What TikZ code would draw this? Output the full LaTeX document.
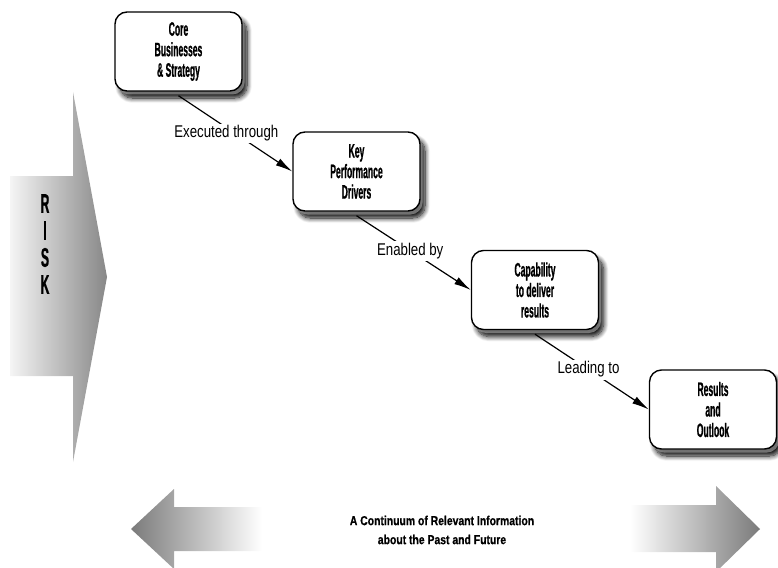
\documentclass[tikz,border=0pt]{standalone}
\usepackage{fontspec}
\setmainfont{Liberation Sans}
\newfontfamily\boxfont[FakeStretch=0.44,FakeBold=0.7]{Liberation Sans Bold}
\newfontfamily\lblfont[FakeStretch=0.78]{Liberation Sans}
\newfontfamily\botfont[FakeStretch=0.8,FakeBold=0.5]{Liberation Sans Bold}
\newfontfamily\riskfont[FakeStretch=0.45,FakeBold=0.8]{Liberation Sans Bold}
\usetikzlibrary{arrows.meta,shadows.blur}
\begin{document}
\begin{tikzpicture}[x=1pt,y=-1pt,
  card/.style={draw=black, line width=1.4pt, rounded corners=12pt, fill=white,
    minimum width=127pt, minimum height=79pt, align=center, inner sep=0pt,
    font=\boxfont\fontsize{19.5}{20.5}\selectfont,
    blur shadow={shadow xshift=5pt, shadow yshift=-7pt, shadow blur steps=10, shadow blur radius=5pt, shadow opacity=100},
    preaction={fill=black!45, opacity=0.8, transform canvas={shift={(2.5pt,-3.5pt)}}}},
  link/.style={line width=1.2pt, -{Latex[length=17pt,width=8pt]}},
  lbl/.style={fill=white, inner sep=2pt, font=\lblfont\fontsize{17}{20}\selectfont},
  bigarrow/.style={draw=none},
]
\useasboundingbox (0,0) rectangle (778,567);

% RISK arrow
\shade[bigarrow, left color=black!4, right color=black!47]
  (10,176) -- (73,176) -- (73,92) -- (107,277) -- (73,462) -- (73,376) -- (10,376) -- cycle;
\node[font=\riskfont\fontsize{27}{27}\selectfont, align=center, inner sep=0pt] (risk) at (45,244) {R\\I\\S\\K};

% bottom arrows
\shade[bigarrow, left color=black!52, right color=white]
  (131,529) -- (174,489) -- (174,507) -- (262,507) -- (262,551) -- (174,551) -- (174,569) -- cycle;
\shade[bigarrow, left color=white, right color=black!52]
  (630,505) -- (716,505) -- (716,486) -- (760,529) -- (716,572) -- (716,552) -- (630,552) -- cycle;
\node[font=\botfont\fontsize{13}{19}\selectfont, align=center] (cont) at (442,530)
  {A Continuum of Relevant Information\\about the Past and Future};

% boxes
\node[card] (core) at (178.5,51.5) {Core\\Businesses\\\& Strategy};
\node[card] (key) at (356.5,171.5) {Key\\Performance\\Drivers};
\node[card] (cap) at (535,290) {Capability\\to deliver\\results};
\node[card] (res) at (713,409.5) {Results\\and\\Outlook};

% connectors
\draw[link] ([yshift=-4pt]core.south) -- node[lbl, pos=0.42, yshift=-6pt] (l1) {Executed through} (key.west);
\draw[link] ([yshift=-4pt]key.south) -- node[lbl, pos=0.47] (l2) {Enabled by} (cap.west);
\draw[link] ([yshift=-4pt]cap.south) -- node[lbl, pos=0.47] (l3) {Leading to} (res.west);
\end{tikzpicture}
\end{document}
